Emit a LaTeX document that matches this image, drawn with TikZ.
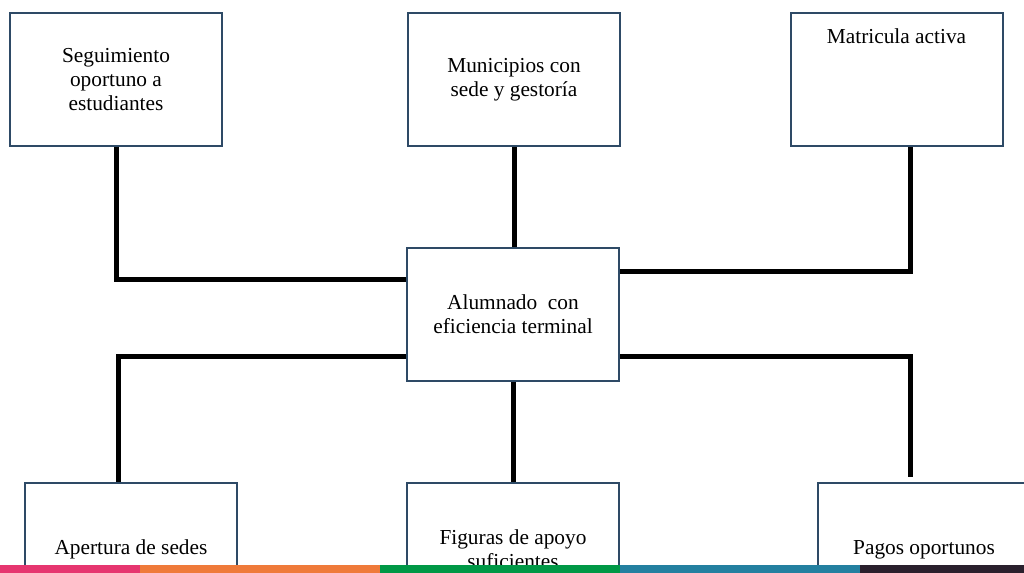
\documentclass[tikz,border=0pt]{standalone}
\usepackage{fontspec}
\setmainfont{Liberation Serif}
\definecolor{bordecaja}{HTML}{2E4A66}
\definecolor{franjaA}{HTML}{E63670}
\definecolor{franjaB}{HTML}{EF7A3A}
\definecolor{franjaC}{HTML}{009846}
\definecolor{franjaD}{HTML}{2380A0}
\definecolor{franjaE}{HTML}{2A202D}

\begin{document}
\begin{tikzpicture}[x=0.75pt,y=-0.75pt]
\tikzstyle{lien}=[line width=3.75pt,black]
\tikzset{caja/.style={draw=bordecaja,line width=1.5pt,fill=white,minimum width=159pt,minimum height=99.75pt,align=center,font=\fontsize{16}{18}\selectfont},
texto/.style={font=\fontsize{16}{18}\selectfont,inner sep=0pt}}
\useasboundingbox (0,0) rectangle (1024,573);
\clip (0,0) rectangle (1024,573);

% fila de arriba
\node[caja] (B1) at (116,79.5) {Seguimiento\\oportuno a\\estudiantes};
\node[caja] (B2) at (514,79.5) {Municipios con\\sede y gestoría};
\node[caja] (B3) at (896.5,79.5) {};
\node[texto,anchor=base] (B3t) at (896.5,44) {Matricula activa};

% centro
\node[caja] (C) at (513,314.5) {Alumnado\ \ con\\eficiencia terminal};

% fila de abajo
\node[caja] (D1) at (131,549.5) {Apertura de sedes};
\node[caja] (D2) at (513,549.5) {Figuras de apoyo\\suficientes};
\node[caja] (D3) at (924,549.5) {Pagos oportunos};

\draw[lien] (B1.south) |- ([shift={(0,33)}]C.north west);
\draw[lien] (B2.south) -- (B2.south |- C.north);
\draw[lien] ([shift={(0,25)}]C.north east) -| ([shift={(13.5,0)}]B3.south);
\draw[lien] ([shift={(0,-25)}]C.south west) -| ([shift={(-13,0)}]D1.north);
\draw[lien] (C.south) -- (D2.north);
\draw[lien] ([shift={(0,-25)}]C.south east) -| ([shift={(-14,-5)}]D3.north);

% franja de colores
\foreach \xa/\xb/\col in {0/140/franjaA,140/380/franjaB,380/620/franjaC,620/860/franjaD,860/1024/franjaE}
  \fill[\col] (\xa,565) rectangle (\xb,573);

\end{tikzpicture}
\end{document}
